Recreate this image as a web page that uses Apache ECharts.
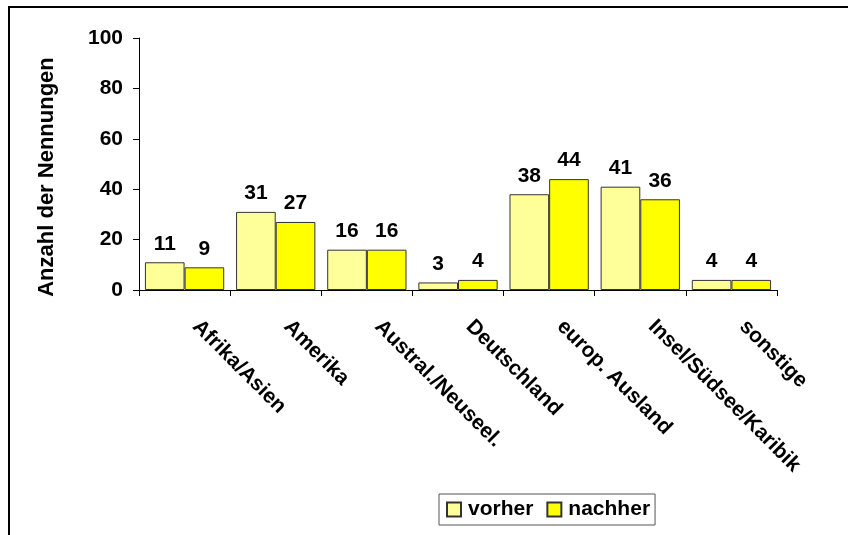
<!DOCTYPE html>
<html>
<head>
<meta charset="utf-8">
<script src="https://cdn.jsdelivr.net/npm/echarts@6/dist/echarts.min.js"></script>
<style>
  html, body { margin: 0; padding: 0; background: #fff; }
  #chart { width: 848px; height: 535px; }
</style>
</head>
<body>
<div id="chart"></div>
<script>
// Reiseziele: Anzahl der Nennungen vorher / nachher
const categories = ['Afrika/Asien', 'Amerika', 'Austral./Neuseel.', 'Deutschland', 'europ. Ausland', 'Insel/Südsee/Karibik', 'sonstige'];
const vorher = [11, 31, 16, 3, 38, 41, 4];
const nachher = [9, 27, 16, 4, 44, 36, 4];
const yTicks = { min: 0, max: 100, interval: 20 };

const font = 'Liberation Sans, Arial, sans-serif';
const chart = echarts.init(document.getElementById('chart'), null, { renderer: 'canvas' });

const barLabel = {
  show: true,
  position: 'top',
  distance: 8,
  color: '#000',
  fontFamily: font,
  fontWeight: 'bold',
  fontSize: 21
};

chart.setOption({
  animation: false,
  backgroundColor: '#fff',
  graphic: [{
    type: 'rect',
    shape: { x: 9, y: 7, width: 900, height: 600 },
    style: { fill: 'none', stroke: '#000', lineWidth: 2 },
    silent: true
  }],
  grid: { left: 139, right: 71, top: 38, bottom: 245, containLabel: false },
  legend: {
    data: ['vorher', 'nachher'],
    left: 439,
    top: 494,
    padding: [5, 5, 5, 7],
    itemGap: 13,
    itemWidth: 14,
    itemHeight: 14,
    icon: 'rect',
    borderColor: '#555',
    borderWidth: 1,
    textStyle: { fontFamily: font, fontWeight: 'bold', fontSize: 21, color: '#000', padding: [0, 0, 0, 2] }
  },
  xAxis: {
    type: 'category',
    data: categories,
    axisLine: { lineStyle: { color: '#000', width: 1 } },
    axisTick: { show: true, length: 6, lineStyle: { color: '#000' } },
    axisLabel: {
      rotate: -45,
      margin: 22,
      interval: 0,
      color: '#000',
      fontFamily: font,
      fontWeight: 'bold',
      fontSize: 21,
      padding: [0, 0, 0, 16]
    }
  },
  yAxis: {
    type: 'value',
    min: yTicks.min,
    max: yTicks.max,
    interval: yTicks.interval,
    name: 'Anzahl der Nennungen',
    nameLocation: 'middle',
    nameRotate: 90,
    nameGap: 81,
    nameTextStyle: { color: '#000', fontFamily: font, fontWeight: 'bold', fontSize: 22, padding: [0, 26, 0, 0] },
    axisLine: { show: true, lineStyle: { color: '#000', width: 1 } },
    axisTick: { show: true, length: 6, lineStyle: { color: '#000' } },
    splitLine: { show: false },
    axisLabel: { margin: 16, color: '#000', fontFamily: font, fontWeight: 'bold', fontSize: 21 }
  },
  series: [
    {
      name: 'vorher',
      type: 'bar',
      data: vorher,
      barGap: '0%',
      barCategoryGap: '13%',
      itemStyle: { color: '#FFFF99', borderColor: '#333', borderWidth: 1 },
      label: barLabel
    },
    {
      name: 'nachher',
      type: 'bar',
      data: nachher,
      itemStyle: { color: '#FFFF00', borderColor: '#333', borderWidth: 1 },
      label: barLabel
    }
  ]
});
</script>
</body>
</html>
